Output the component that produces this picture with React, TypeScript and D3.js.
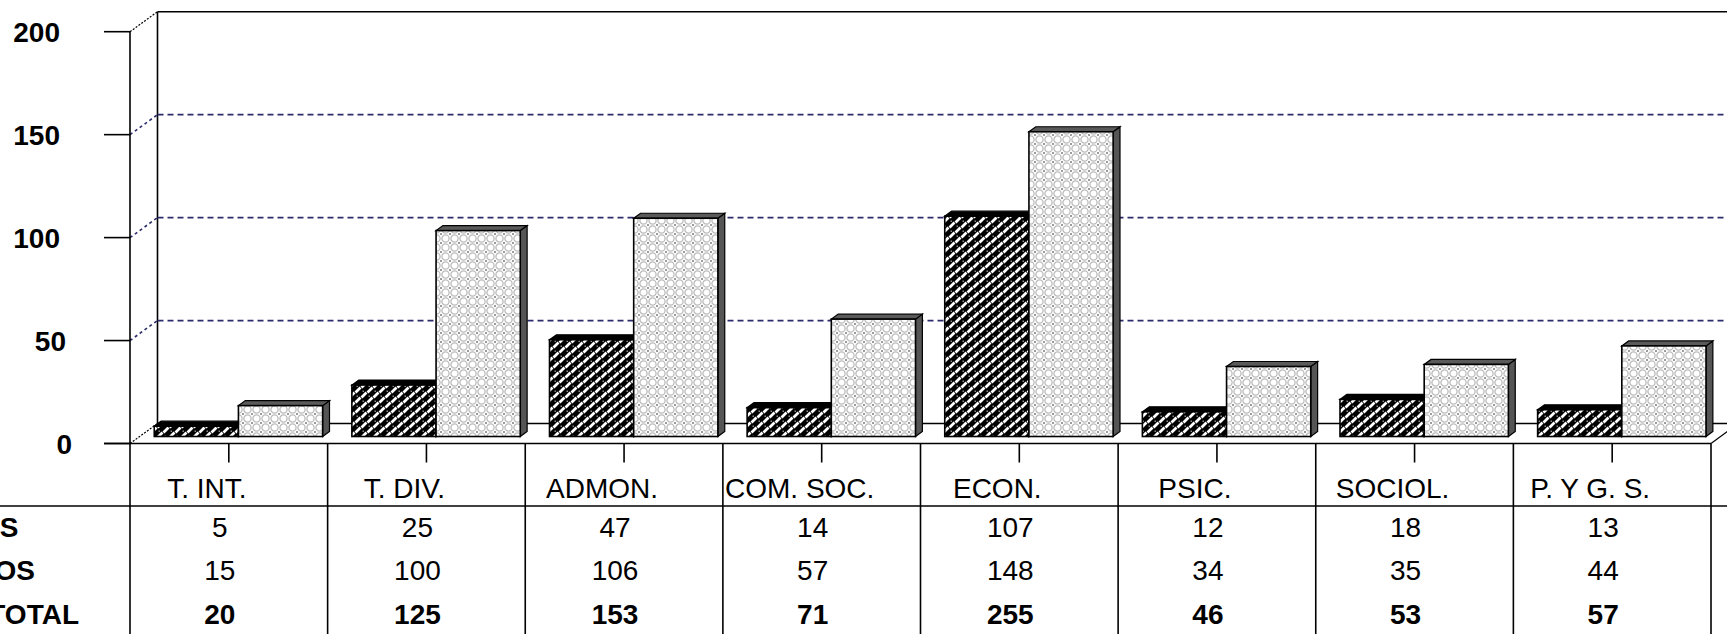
import React, { useEffect, useRef } from 'react';
import * as d3 from 'd3';

const categories = ['T. INT.', 'T. DIV.', 'ADMON.', 'COM. SOC.', 'ECON.', 'PSIC.', 'SOCIOL.', 'P. Y G. S.'];
const seriesS = [5, 25, 47, 14, 107, 12, 18, 13];
const seriesOS = [15, 100, 106, 57, 148, 34, 35, 44];
const totals = [20, 125, 153, 71, 255, 46, 53, 57];
const yTicks = [0, 50, 100, 150, 200];
const gridTicks = [50, 100, 150];
const rowLabels = ['S', 'OS', 'TOTAL'];
const seriesKeys = ['S', 'OS'];

const W = 1727;
const H = 634;
const FONT = '"Liberation Sans", Arial, sans-serif';

export default function App() {
  const svgRef = useRef<SVGSVGElement | null>(null);

  useEffect(() => {
    if (!svgRef.current) return;
    const svg = d3.select(svgRef.current);
    svg.selectAll('*').remove();

    // front plane of the 3D box, and its depth offset
    const left = 130;
    const right = 1711;
    const DX = 27.5;
    const DY = -20;
    const tFront = 0.35; // bar front face depth
    const tBack = 0.6; // bar back face depth

    const y = d3.scaleLinear().domain([0, 200]).range([443.5, 31.7]);
    const x0 = d3.scaleBand<string>().domain(categories).range([left, right]).paddingInner(0.148).paddingOuter(0.074);
    const x1 = d3.scaleBand<string>().domain(seriesKeys).range([0, x0.bandwidth()]);
    const step = x0.step();
    const colStart = (i: number) => left + i * step;
    const colMid = (i: number) => left + (i + 0.5) * step;

    // patterns
    const defs = svg.append('defs');
    const pd = defs.append('pattern').attr('id', 'weave').attr('patternUnits', 'userSpaceOnUse')
      .attr('width', 12).attr('height', 10);
    pd.append('rect').attr('width', 12).attr('height', 10).attr('fill', '#000');
    pd.append('path')
      .attr('d', 'M1.5,7.5 L6.5,2.5 M7.5,2.5 L12.5,-2.5 M-4.5,2.5 L0.5,-2.5 M7.5,12.5 L12.5,7.5 M-4.5,12.5 L0.5,7.5')
      .attr('stroke', '#fff').attr('stroke-width', 2.8);
    pd.append('rect').attr('x', 8.5).attr('y', 5.5).attr('width', 1.5).attr('height', 1.5).attr('fill', '#8a8a8a');
    pd.append('rect').attr('x', 2.5).attr('y', 0.5).attr('width', 1.5).attr('height', 1.5).attr('fill', '#8a8a8a');

    const pl = defs.append('pattern').attr('id', 'dots').attr('patternUnits', 'userSpaceOnUse')
      .attr('width', 9).attr('height', 9);
    pl.append('rect').attr('width', 9).attr('height', 9).attr('fill', '#fff');
    pl.append('circle').attr('cx', 4.5).attr('cy', 4.5).attr('r', 3.6)
      .attr('fill', 'none').attr('stroke', '#bcbcbc').attr('stroke-width', 1.3);
    [[-1, -1], [8, -1], [-1, 8], [8, 8]].forEach(([a, b]) => {
      pl.append('rect').attr('x', a).attr('y', b).attr('width', 2).attr('height', 2).attr('fill', '#9c9c9c');
    });

    const g = svg.append('g');
    const line = (x1p: number, y1p: number, x2p: number, y2p: number, stroke = '#000', width = 1.6, dash?: string) => {
      const l = g.append('line').attr('x1', x1p).attr('y1', y1p).attr('x2', x2p).attr('y2', y2p)
        .attr('stroke', stroke).attr('stroke-width', width);
      if (dash) l.attr('stroke-dasharray', dash);
      return l;
    };

    // back wall: top line, baseline, left back edge
    line(left + DX, y(200) + DY, W + 20, y(200) + DY);
    line(left + DX, y(0) + DY, W + 20, y(0) + DY);
    line(left + DX, y(200) + DY, left + DX, y(0) + DY);

    // gridlines on back wall + left wall
    gridTicks.forEach((t) => {
      line(left + DX, y(t) + DY, W + 20, y(t) + DY, '#2c2c6c', 1.8, '6,4');
      line(left, y(t), left + DX, y(t) + DY, '#2c2c6c', 1.6, '3,3');
    });
    line(left, y(200), left + DX, y(200) + DY, '#000', 1.2, '2,1.5');
    line(left, y(0), left + DX, y(0) + DY, '#000', 1.2, '2,1.5');

    // front y axis + ticks + labels
    line(left, y(200), left, y(0));
    yTicks.forEach((t) => {
      line(104, y(t), left, y(t));
      const label = String(t);
      g.append('text')
        .attr('x', 60 + (3 - label.length) * 6)
        .attr('y', y(t) + 10)
        .attr('text-anchor', 'end')
        .attr('font-family', FONT)
        .attr('font-weight', 700)
        .attr('font-size', 28)
        .attr('fill', '#000')
        .text(label);
    });

    // bars
    const ddx = DX * (tBack - tFront);
    const ddy = DY * (tBack - tFront);
    categories.forEach((cat, i) => {
      [seriesS[i], seriesOS[i]].forEach((v, j) => {
        const key = seriesKeys[j];
        const w = x1.bandwidth();
        const fx = (x0(cat) ?? 0) + (x1(key) ?? 0) + DX * tFront;
        const fbot = y(0) + DY * tFront;
        const ftop = y(v) + DY * tFront;
        const dark = j === 0;
        const bg = g.append('g');
        bg.append('path')
          .attr('d', `M${fx + w},${ftop} L${fx + w + ddx},${ftop + ddy} L${fx + w + ddx},${fbot + ddy} L${fx + w},${fbot} Z`)
          .attr('fill', dark ? '#000' : '#555').attr('stroke', '#000').attr('stroke-width', 1.2);
        bg.append('path')
          .attr('d', `M${fx},${ftop} L${fx + w},${ftop} L${fx + w + ddx},${ftop + ddy} L${fx + ddx},${ftop + ddy} Z`)
          .attr('fill', dark ? '#000' : '#5a5a5a').attr('stroke', '#000').attr('stroke-width', 1.2);
        bg.append('rect')
          .attr('x', fx).attr('y', ftop).attr('width', w).attr('height', fbot - ftop)
          .attr('fill', dark ? 'url(#weave)' : 'url(#dots)')
          .attr('stroke', '#000').attr('stroke-width', 1.6);
      });
    });

    // floor front edge + right diagonal
    line(104, y(0), right, y(0));
    line(right, y(0), right + DX, y(0) + DY, '#000', 1.2);

    // table
    const tableTop = 506;
    line(0, tableTop, W, tableTop);
    d3.range(categories.length + 1).forEach((i) => {
      line(colStart(i), y(0), colStart(i), H);
    });
    categories.forEach((cat, i) => {
      line(colMid(i), y(0), colMid(i), y(0) + 19);
      g.append('text')
        .attr('x', colMid(i) - 22).attr('y', 498)
        .attr('text-anchor', 'middle')
        .attr('font-family', FONT).attr('font-size', 28).attr('fill', '#000')
        .text(cat);
    });

    const rowBase = [536.5, 579.5, 623.5];
    const rowEnds = [18.5, 35, 79];
    const rows = [seriesS, seriesOS, totals];
    rows.forEach((vals, r) => {
      g.append('text')
        .attr('x', rowEnds[r]).attr('y', rowBase[r])
        .attr('text-anchor', 'end')
        .attr('font-family', FONT).attr('font-size', 28).attr('font-weight', 700).attr('fill', '#000')
        .text(rowLabels[r]);
      vals.forEach((v, i) => {
        g.append('text')
          .attr('x', colMid(i) - 9).attr('y', rowBase[r])
          .attr('text-anchor', 'middle')
          .attr('font-family', FONT).attr('font-size', 28)
          .attr('font-weight', r === 2 ? 700 : 400)
          .attr('fill', '#000')
          .text(String(v));
      });
    });
  }, []);

  return (
    <svg
      ref={svgRef}
      width={W}
      height={H}
      style={{ position: 'absolute', left: 0, top: 0, background: '#fff', display: 'block' }}
    />
  );
}
